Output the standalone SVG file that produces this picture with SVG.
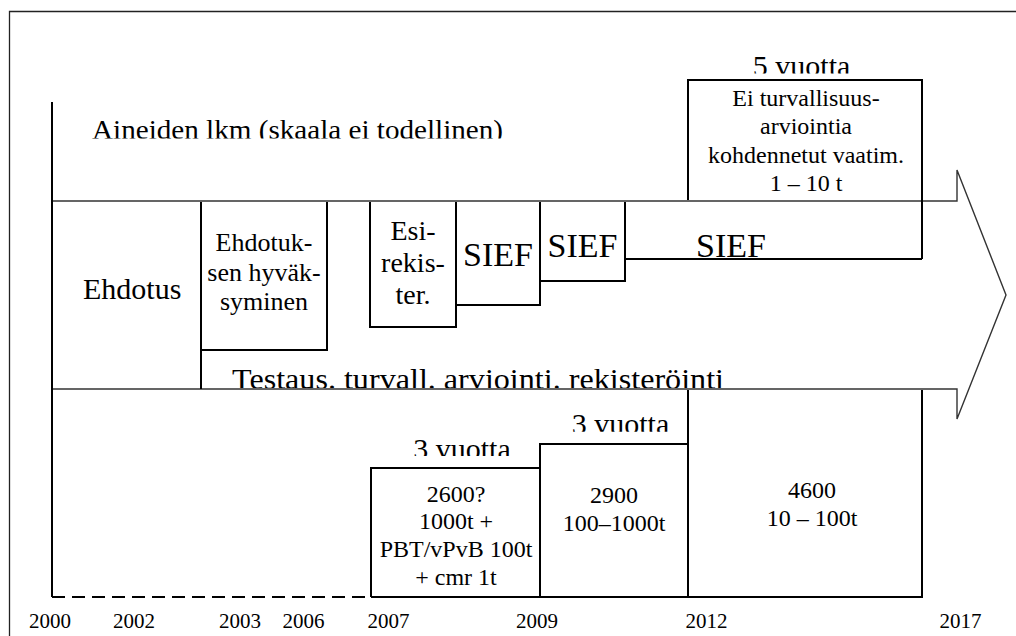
<svg xmlns="http://www.w3.org/2000/svg" width="1016" height="636" viewBox="0 0 1016 636">
<defs>
<style>
text{font-family:'Liberation Serif','Times New Roman',serif;fill:#000}
.ln{fill:none;stroke:#000;stroke-width:2}
.m{text-anchor:middle}
.s21{font-size:21px}
.s24{font-size:24px}
.s26{font-size:26px}
.s28{font-size:28px}
.s30{font-size:30px}
.s34{font-size:34px}
</style>
<clipPath id="cA"><rect x="0" y="0" width="1016" height="138.5"/></clipPath>
<clipPath id="c5"><rect x="0" y="0" width="1016" height="73.5"/></clipPath>
<clipPath id="cT"><rect x="0" y="0" width="1016" height="388"/></clipPath>
<clipPath id="c31"><rect x="0" y="0" width="1016" height="456"/></clipPath>
<clipPath id="c32"><rect x="0" y="0" width="1016" height="431.7"/></clipPath>
</defs>
<rect width="1016" height="636" fill="#fff"/>
<path d="M9.5,640 V11.5 H1020" fill="none" stroke="#222" stroke-width="1.3"/>

<g id="connectors">
<path id="arrow" d="M52,201 H957 V170 L1006,295 L957,419 V389 H52 Z" fill="#fff" stroke="#333" stroke-width="1.4"/>
<path id="axis" class="ln" d="M52,102 V597"/>
<path id="dash" class="ln" d="M52,597 H371" stroke-dasharray="13 7"/>
<path class="ln" d="M371,597 H922"/>
</g>

<g id="title"><text x="92" y="138.5" textLength="411" lengthAdjust="spacingAndGlyphs" clip-path="url(#cA)" font-size="27">Aineiden lkm (skaala ei todellinen)</text></g>

<g id="ehdotus"><text x="83" y="299" class="s30">Ehdotus</text></g>

<g id="hyvaksyminen">
<path class="ln" d="M201,202 V350 H327 V202"/>
<path class="ln" d="M201,350 V389"/>
<text class="m s26" x="264" y="251">Ehdotuk-</text>
<text class="m s26" x="264" y="280.5">sen hyväk-</text>
<text class="m s26" x="264" y="310">syminen</text>
</g>

<g id="esirekister">
<path class="ln" d="M370,202 V327 H456 V202"/>
<text class="m s28" x="413" y="240">Esi-</text>
<text class="m s28" x="413" y="272">rekis-</text>
<text class="m s28" x="413" y="304">ter.</text>
</g>

<g id="sief1">
<path class="ln" d="M456,305 H540 V202"/>
<text class="m s34" x="498" y="266">SIEF</text>
</g>

<g id="sief2">
<path class="ln" d="M540,281 H625 V202"/>
<text class="m s34" x="582.5" y="257">SIEF</text>
</g>

<g id="sief3">
<path class="ln" d="M625,259 H922"/>
<text class="m s34" x="731" y="257">SIEF</text>
</g>

<g id="viisi-vuotta">
<path class="ln" d="M688,200 V80 H922 V259"/>
<text class="m s30" x="801.6" y="75.5" clip-path="url(#c5)">5 vuotta</text>
<text class="m s24" x="806" y="106">Ei turvallisuus-</text>
<text class="m s24" x="806" y="134">arviointia</text>
<text class="m s24" x="806" y="163">kohdennetut vaatim.</text>
<text class="m s24" x="806" y="191">1 – 10 t</text>
</g>

<g id="testaus"><text x="232" y="388.5" textLength="492" lengthAdjust="spacingAndGlyphs" clip-path="url(#cT)" font-size="29">Testaus. turvall. arviointi. rekisteröinti</text></g>

<g id="box2600">
<path class="ln" d="M371,597 V468 H540 V597"/>
<text class="m s30" x="462" y="458.5" clip-path="url(#c31)">3 vuotta</text>
<text class="m s24" x="456" y="502">2600?</text>
<text class="m s24" x="456" y="529">1000t +</text>
<text class="m s24" x="456" y="557">PBT/vPvB 100t</text>
<text class="m s24" x="456" y="585">+ cmr 1t</text>
</g>

<g id="box2900">
<path class="ln" d="M540,468 V444 H688"/>
<text class="m s30" x="620.5" y="434" clip-path="url(#c32)">3 vuotta</text>
<text class="m s24" x="614" y="503">2900</text>
<text class="m s24" x="614" y="531">100–1000t</text>
</g>

<g id="box4600">
<path class="ln" d="M688,390 V597 H922 V390"/>
<text class="m s24" x="812" y="498">4600</text>
<text class="m s24" x="812" y="526">10 – 100t</text>
</g>

<g id="years">
<text class="m s21" x="50" y="627.5">2000</text>
<text class="m s21" x="134" y="627.5">2002</text>
<text class="m s21" x="240" y="627.5">2003</text>
<text class="m s21" x="303.5" y="627.5">2006</text>
<text class="m s21" x="388.5" y="627.5">2007</text>
<text class="m s21" x="537" y="627.5">2009</text>
<text class="m s21" x="706.5" y="627.5">2012</text>
<text class="m s21" x="960.5" y="627.5">2017</text>
</g>
</svg>
